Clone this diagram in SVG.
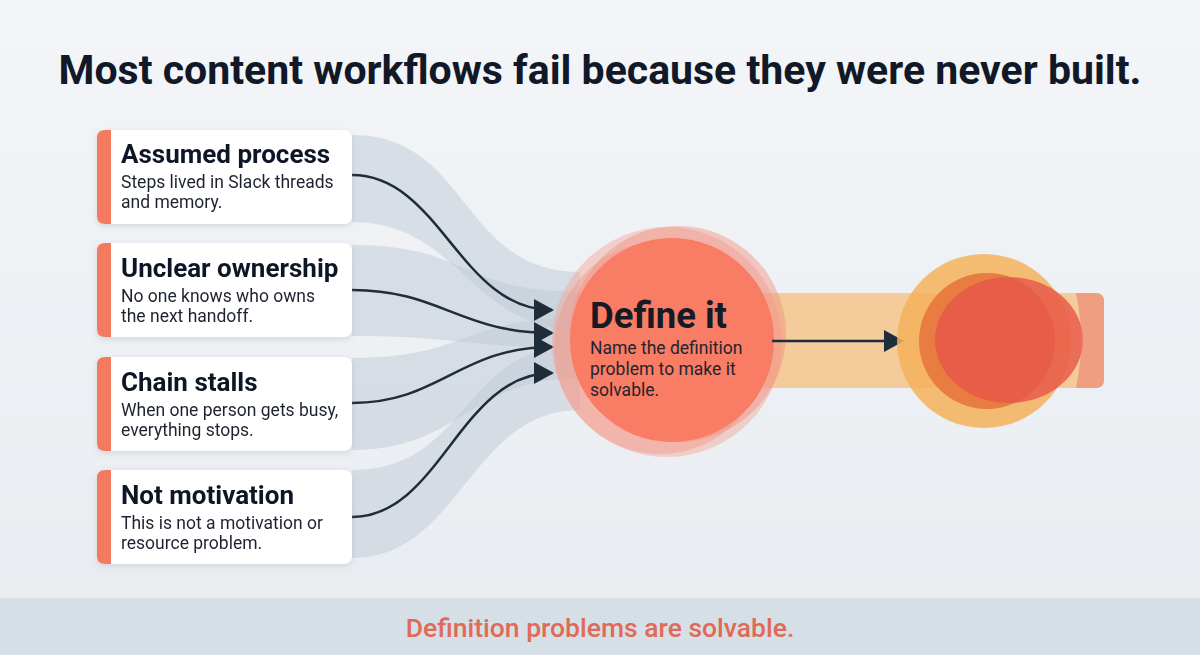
<svg xmlns="http://www.w3.org/2000/svg" width="1200" height="655" viewBox="0 0 1200 655">
<defs>
<linearGradient id="bg" x1="0" y1="0" x2="0" y2="1">
<stop offset="0" stop-color="#f3f5f8"/>
<stop offset="1" stop-color="#e8ecf0"/>
</linearGradient>
<filter id="sh" x="-10%" y="-20%" width="120%" height="150%">
<feDropShadow dx="0" dy="2" stdDeviation="3" flood-color="#7a8a9a" flood-opacity="0.25"/>
</filter>
<marker id="ah" markerWidth="20" markerHeight="22" refX="18" refY="11" orient="auto" markerUnits="userSpaceOnUse">
<path d="M0,0 L20,11 L0,22 Z" fill="#1f2d3b"/>
</marker>
</defs>
<style>
.title{font-family:Roboto,"Liberation Sans",sans-serif;font-weight:700;font-size:41px;fill:#111827}
.ct{font-family:Roboto,"Liberation Sans",sans-serif;font-weight:700;font-size:26px;fill:#111827}
.cs{font-family:Roboto,"Liberation Sans",sans-serif;font-size:17.5px;fill:#1f2430}
.band{fill:#bfcad5;opacity:0.5}
.conn{fill:none;stroke:#1f2d3b;stroke-width:2.5}
.card{fill:#ffffff}
.stripe{fill:#f47a5e}
</style>
<rect width="1200" height="655" fill="url(#bg)"/>
<text class="title" x="600" y="84" text-anchor="middle">Most content workflows fail because they were never built.</text>

<g id="bands">
<path class="band" d="M352 135 C470 135 460 272 580 272 L580 330 C470 330 460 222 352 222 Z"/>
<path class="band" d="M352 245 C470 245 460 292 580 292 L580 348 C470 348 460 336 352 336 Z"/>
<path class="band" d="M352 358 C470 358 460 318 580 318 L580 378 C470 378 460 450 352 450 Z"/>
<path class="band" d="M352 470 C470 470 460 345 580 345 L580 410 C470 410 460 558 352 558 Z"/>
</g>

<g id="connectors">
<path class="conn" d="M352 175 C440 175 460 310 552 310" marker-end="url(#ah)"/>
<path class="conn" d="M352 290 C440 290 460 333 552 333" marker-end="url(#ah)"/>
<path class="conn" d="M352 403 C440 403 460 347 552 347" marker-end="url(#ah)"/>
<path class="conn" d="M352 517 C440 517 460 373 552 373" marker-end="url(#ah)"/>
</g>

<g id="card1" filter="url(#sh)">
<rect class="card" x="97" y="130" width="255" height="94" rx="8"/>
<path class="stripe" d="M105 130 L111 130 L111 224 L105 224 Q97 224 97 216 L97 138 Q97 130 105 130 Z"/>
<text class="ct" x="121" y="163">Assumed process</text>
<text class="cs" x="121" y="188">Steps lived in Slack threads</text>
<text class="cs" x="121" y="208">and memory.</text>
</g>
<g id="card2" filter="url(#sh)">
<rect class="card" x="97" y="243" width="255" height="94" rx="8"/>
<path class="stripe" d="M105 243 L111 243 L111 337 L105 337 Q97 337 97 329 L97 251 Q97 243 105 243 Z"/>
<text class="ct" x="121" y="277">Unclear ownership</text>
<text class="cs" x="121" y="302">No one knows who owns</text>
<text class="cs" x="121" y="322">the next handoff.</text>
</g>
<g id="card3" filter="url(#sh)">
<rect class="card" x="97" y="357" width="255" height="94" rx="8"/>
<path class="stripe" d="M105 357 L111 357 L111 451 L105 451 Q97 451 97 443 L97 365 Q97 357 105 357 Z"/>
<text class="ct" x="121" y="391">Chain stalls</text>
<text class="cs" x="121" y="416">When one person gets busy,</text>
<text class="cs" x="121" y="436">everything stops.</text>
</g>
<g id="card4" filter="url(#sh)">
<rect class="card" x="97" y="470" width="255" height="94" rx="8"/>
<path class="stripe" d="M105 470 L111 470 L111 564 L105 564 Q97 564 97 556 L97 478 Q97 470 105 470 Z"/>
<text class="ct" x="121" y="504">Not motivation</text>
<text class="cs" x="121" y="529">This is not a motivation or</text>
<text class="cs" x="121" y="549">resource problem.</text>
</g>

<g id="band-right">
<rect x="740" y="293" width="364" height="95" rx="8" fill="#f5c48a" opacity="0.85"/>
</g>

<g id="define">
<circle cx="667" cy="342" r="115" fill="#f3a397" opacity="0.45"/>
<circle cx="678" cy="334" r="108" fill="#f29080" opacity="0.45"/>
<circle cx="660" cy="348" r="106" fill="#f4907f" opacity="0.4"/>
<circle cx="672" cy="340" r="102" fill="#f97c64"/>
<text x="590" y="328" font-family="Roboto,'Liberation Sans',sans-serif" font-weight="700" font-size="36.5" fill="#161a24">Define it</text>
<text class="cs" x="590" y="354">Name the definition</text>
<text class="cs" x="590" y="375">problem to make it</text>
<text class="cs" x="590" y="396">solvable.</text>
</g>

<g id="connector-right">
<path class="conn" d="M772 341 L902 341" marker-end="url(#ah)"/>
</g>

<g id="result">
<circle cx="984" cy="341" r="87" fill="#f5b25a" opacity="0.85"/>
<circle cx="987" cy="341" r="68" fill="#e8763c" opacity="0.9"/>
<ellipse cx="1009" cy="340" rx="74" ry="63" fill="#e65548" opacity="0.8"/>
<path d="M1076 293 L1096 293 Q1104 293 1104 301 L1104 380 Q1104 388 1096 388 L1076 388 Q1086 340 1076 293 Z" fill="#ec7a70" opacity="0.55"/>
</g>

<g id="footer">
<rect x="0" y="598" width="1200" height="57" fill="#d6dfe5"/>
<text x="600" y="637" text-anchor="middle" font-family="Roboto,'Liberation Sans',sans-serif" font-weight="500" font-size="26.5" fill="#e06a58">Definition problems are solvable.</text>
</g>
</svg>
